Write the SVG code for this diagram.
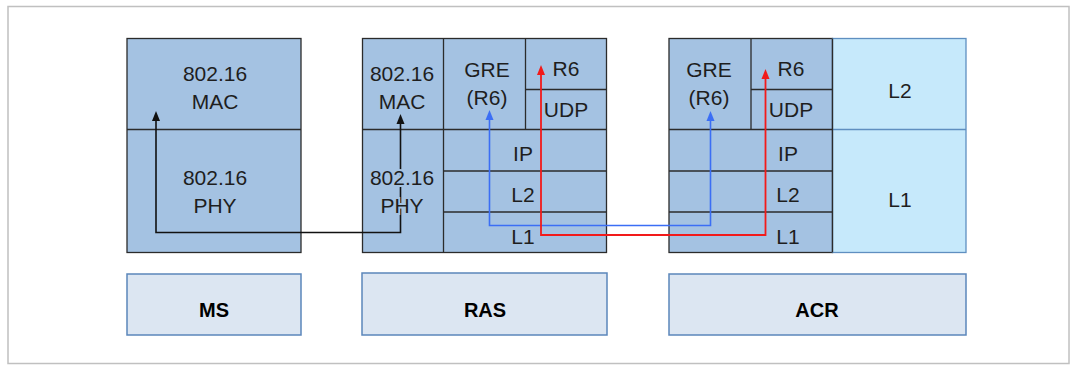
<svg xmlns="http://www.w3.org/2000/svg" width="1070" height="365" viewBox="0 0 1070 365">
<style>
.frame{fill:#fff;stroke:#c0c0c0;stroke-width:1.5}
.blk{fill:#a4c2e2;stroke:#2b2b2b;stroke-width:1.3}
.cyan{fill:#c6e9fb;stroke:#5f8fc0;stroke-width:1.3}
.lbl{fill:#dce6f2;stroke:#5b86bb;stroke-width:1.5}
.div{stroke:#2b2b2b;stroke-width:1.3;fill:none}
.divc{stroke:#5f8fc0;stroke-width:1.3;fill:none}
text{font-family:"Liberation Sans",Arial,sans-serif;fill:#1e1e1e;text-anchor:middle}
.t{font-size:21px}
.halo{paint-order:stroke;stroke:#a4c2e2;stroke-width:4}
.b{font-size:20px;font-weight:bold;fill:#000}
.cb{fill:none;stroke:#111;stroke-width:1.6}
.cbl{fill:none;stroke:#3b6ef5;stroke-width:1.6}
.cr{fill:none;stroke:#f21a1a;stroke-width:1.8}
</style>
<defs>
<marker id="ak" markerWidth="10" markerHeight="10" refX="5" refY="5" orient="auto" markerUnits="userSpaceOnUse" viewBox="0 0 10 10"><path d="M0,1 L10,5 L0,9 z" fill="#111"/></marker>
<marker id="ab" markerWidth="10" markerHeight="10" refX="5" refY="5" orient="auto" markerUnits="userSpaceOnUse" viewBox="0 0 10 10"><path d="M0,1 L10,5 L0,9 z" fill="#3b6ef5"/></marker>
<marker id="ar" markerWidth="10" markerHeight="10" refX="5" refY="5" orient="auto" markerUnits="userSpaceOnUse" viewBox="0 0 10 10"><path d="M0,1 L10,5 L0,9 z" fill="#f21a1a"/></marker>
<marker id="aks" markerWidth="10" markerHeight="10" refX="5" refY="5" orient="auto-start-reverse" markerUnits="userSpaceOnUse" viewBox="0 0 10 10"><path d="M0,1 L10,5 L0,9 z" fill="#111"/></marker>
<marker id="abs" markerWidth="10" markerHeight="10" refX="5" refY="5" orient="auto-start-reverse" markerUnits="userSpaceOnUse" viewBox="0 0 10 10"><path d="M0,1 L10,5 L0,9 z" fill="#3b6ef5"/></marker>
<marker id="ars" markerWidth="10" markerHeight="10" refX="5" refY="5" orient="auto-start-reverse" markerUnits="userSpaceOnUse" viewBox="0 0 10 10"><path d="M0,1 L10,5 L0,9 z" fill="#f21a1a"/></marker>
</defs>
<rect class="frame" x="8" y="6.5" width="1061" height="357"/>

<g id="ms-stack">
<rect class="blk" x="127" y="38.5" width="174" height="214"/>
<line class="div" x1="127" y1="129.5" x2="301" y2="129.5"/>
<text class="t" x="215" y="81">802.16</text>
<text class="t" x="215" y="109">MAC</text>
<text class="t" x="215" y="185">802.16</text>
<text class="t" x="215" y="213">PHY</text>
</g>

<g id="ras-stack">
<rect class="blk" x="362.5" y="38.5" width="244" height="214"/>
<line class="div" x1="443.5" y1="38.5" x2="443.5" y2="252.5"/>
<line class="div" x1="525.5" y1="38.5" x2="525.5" y2="129.5"/>
<line class="div" x1="525.5" y1="89.5" x2="606.5" y2="89.5"/>
<line class="div" x1="362.5" y1="129.5" x2="606.5" y2="129.5"/>
<line class="div" x1="443.5" y1="171" x2="606.5" y2="171"/>
<line class="div" x1="443.5" y1="212" x2="606.5" y2="212"/>
<text class="t" x="487" y="77">GRE</text>
<text class="t" x="487" y="105">(R6)</text>
<text class="t" x="566" y="76">R6</text>
<text class="t" x="566" y="117">UDP</text>
<text class="t" x="523" y="161">IP</text>
<text class="t" x="523" y="202">L2</text>
<text class="t" x="523" y="244">L1</text>
</g>

<g id="acr-stack">
<rect class="blk" x="669" y="38.5" width="163.5" height="214"/>
<rect class="cyan" x="832.5" y="38.5" width="133.5" height="214"/>
<line class="divc" x1="832.5" y1="129.5" x2="966" y2="129.5"/>
<line class="div" x1="751" y1="38.5" x2="751" y2="129.5"/>
<line class="div" x1="751" y1="89.5" x2="832.5" y2="89.5"/>
<line class="div" x1="669" y1="129.5" x2="832.5" y2="129.5"/>
<line class="div" x1="669" y1="171" x2="832.5" y2="171"/>
<line class="div" x1="669" y1="212" x2="832.5" y2="212"/>
<line class="div" x1="832.5" y1="38.5" x2="832.5" y2="252.5"/>
<text class="t" x="709" y="77">GRE</text>
<text class="t" x="709" y="105">(R6)</text>
<text class="t" x="791" y="76">R6</text>
<text class="t" x="791" y="117">UDP</text>
<text class="t" x="788" y="161">IP</text>
<text class="t" x="788" y="202">L2</text>
<text class="t" x="788" y="244">L1</text>
<text class="t" x="900" y="98">L2</text>
<text class="t" x="900" y="207">L1</text>
</g>

<g id="connectors">
<path class="cb" d="M156,116 L156,232.5 L400.5,232.5 L400.5,119" marker-start="url(#aks)" marker-end="url(#ak)"/>
<path class="cbl" d="M489.5,115 L489.5,225.5 L710.5,225.5 L710.5,116" marker-start="url(#abs)" marker-end="url(#ab)"/>
<path class="cr" d="M541,70 L541,235 L765.5,235 L765.5,74" marker-start="url(#ars)" marker-end="url(#ar)"/>
</g>

<g id="ras-phy-labels">
<text class="t halo" x="402" y="81">802.16</text>
<text class="t halo" x="402" y="109">MAC</text>
<text class="t halo" x="402" y="185">802.16</text>
<text class="t halo" x="402" y="213">PHY</text>
</g>

<g id="ms-label">
<rect class="lbl" x="127" y="274" width="174" height="61"/>
<text class="b" x="214" y="317">MS</text>
</g>
<g id="ras-label">
<rect class="lbl" x="362" y="273" width="245" height="62"/>
<text class="b" x="485" y="317">RAS</text>
</g>
<g id="acr-label">
<rect class="lbl" x="669" y="274" width="297" height="61"/>
<text class="b" x="817" y="317">ACR</text>
</g>
</svg>
